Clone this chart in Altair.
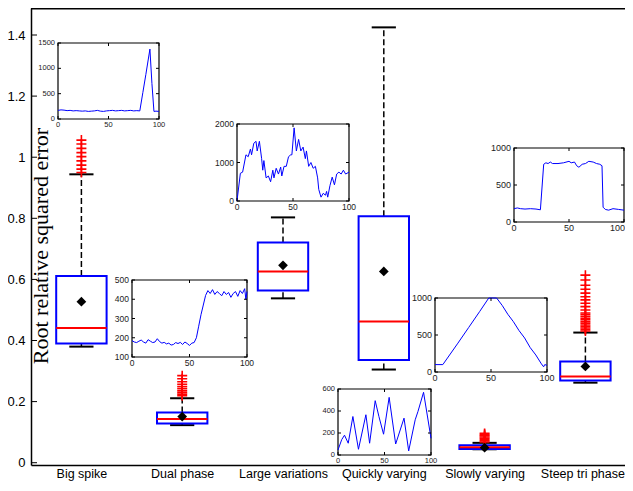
import json
import altair as alt
import pandas as pd

# ---------------- data ----------------
CATEGORIES = ["Big spike", "Dual phase", "Large variations",
              "Quickly varying", "Slowly varying", "Steep tri phase"]
Q1 = [0.390, 0.128, 0.564, 0.336, 0.045, 0.269]
MEDIAN = [0.441, 0.143, 0.626, 0.462, 0.051, 0.282]
Q3 = [0.611, 0.164, 0.721, 0.807, 0.057, 0.331]
WHISK_LO = [0.380, 0.123, 0.538, 0.305, 0.044, 0.262]
WHISK_HI = [0.944, 0.211, 0.803, 1.425, 0.065, 0.426]
MEAN = [0.527, 0.151, 0.646, 0.626, 0.049, 0.315]

OUT_BIG_SPIKE = [0.950, 0.961, 0.974, 0.988, 1.002, 1.015, 1.029, 1.043, 1.056]
OUT_DUAL_PHASE = [0.219, 0.224, 0.229, 0.235, 0.242, 0.249, 0.257, 0.265, 0.275, 0.285]
OUT_SLOWLY = [0.068, 0.072, 0.076, 0.080, 0.084, 0.088, 0.092, 0.096]
OUT_STEEP = [0.431, 0.436, 0.441, 0.446, 0.451, 0.457, 0.462, 0.468, 0.473, 0.479,
             0.485, 0.490, 0.500, 0.511, 0.522, 0.533, 0.543, 0.555, 0.568, 0.581,
             0.598, 0.614]

Y_TICKS = [0, 0.2, 0.4, 0.6, 0.8, 1.0, 1.2, 1.4]

# inset series (time 0..100)
SPIKE_T = [0, 3, 6, 9, 12, 15, 18, 21, 24, 27, 30, 33, 36, 39, 42, 45, 48, 51, 54, 57,
           60, 63, 66, 69, 72, 75, 78, 81, 84, 87, 91, 93, 95, 97, 100]
SPIKE_V = [170, 180, 175, 165, 170, 160, 165, 160, 155, 160, 150, 155, 160, 170, 155,
           150, 160, 165, 170, 160, 165, 170, 160, 165, 170, 160, 165, 160, 520, 880,
           1380, 700, 150, 155, 150]

DUAL_T = [0, 2, 4, 6, 8, 10, 12, 14, 16, 18, 20, 22, 24, 26, 28, 30, 32, 34, 36, 38,
          40, 42, 44, 46, 48, 50, 52, 54, 56, 58, 60, 62, 64, 66, 68, 70, 72, 74, 76,
          78, 80, 82, 84, 86, 88, 90, 92, 94, 96, 98, 99, 100]
DUAL_V = [185, 178, 175, 182, 188, 178, 172, 190, 182, 175, 178, 195, 180, 172, 176,
          168, 172, 162, 165, 175, 170, 176, 165, 178, 170, 160, 172, 175, 200, 260,
          320, 370, 420, 445, 430, 450, 425, 440, 430, 418, 440, 425, 435, 410, 430,
          440, 415, 445, 430, 455, 400, 440]

LARGE_T = [0, 3, 5, 8, 10, 12, 13, 15, 17, 18, 20, 22, 23, 24, 26, 28, 30, 32, 33, 35,
           37, 39, 40, 42, 44, 46, 48, 49, 51, 53, 55, 57, 59, 61, 62, 64, 66, 68, 70,
           72, 73, 75, 77, 79, 80, 81, 83, 85, 87, 89, 91, 93, 95, 97, 100]
LARGE_V = [0, 720, 750, 1200, 1150, 1350, 1200, 1500, 1550, 1300, 1550, 1100, 800,
           1050, 600, 650, 500, 800, 600, 850, 700, 880, 650, 900, 900, 1150, 1200,
           1200, 1900, 1300, 1600, 1300, 1400, 1100, 1300, 900, 1000, 850, 900, 600,
           300, 100, 200, 150, 250, 100, 400, 620, 420, 700, 750, 700, 800, 700, 750]

QUICK_T = [0, 4, 7, 11, 16, 22, 30, 34, 40, 44, 49, 55, 62, 71, 76, 83, 86, 92, 100]
QUICK_V = [46, 140, 180, 107, 350, 52, 366, 107, 494, 350, 189, 524, 100, 335, 37,
           320, 396, 570, 152]

SLOW_T = [0, 7, 20, 30, 40, 48, 55, 60, 65, 70, 75, 80, 85, 90, 95, 97, 98, 100]
SLOW_V = [100, 100, 380, 600, 820, 1000, 1000, 900, 780, 680, 560, 460, 330, 230,
          110, 70, 100, 90]

STEEP_T = [0, 3, 6, 10, 15, 20, 24, 27, 29, 31, 33, 35, 40, 45, 50, 52, 55, 57, 59,
           62, 65, 68, 72, 75, 78, 80, 81, 83, 86, 90, 95, 100]
STEEP_V = [180, 190, 180, 175, 180, 175, 165, 780, 800, 790, 810, 790, 790, 800, 820,
           800, 810, 760, 740, 780, 790, 820, 810, 790, 780, 760, 200, 170, 160, 180,
           170, 160]

# ---------------- layout ----------------
PX_PER_CAT = 100.8
VIEW_W, VIEW_H = 594, 457
X_DOM = [0.5, 0.5 + VIEW_W / PX_PER_CAT]
Y_DOM = [-0.0075, 1.4884]
FONT = "Liberation Sans"
BLUE, RED = "#0000FF", "#FF0000"

xs_main = alt.Scale(domain=X_DOM, nice=False, zero=False)
ys_main = alt.Scale(domain=Y_DOM, nice=False, zero=False)

stats = pd.DataFrame({
    "pos": list(range(1, 7)), "q1": Q1, "med": MEDIAN, "q3": Q3,
    "lo": WHISK_LO, "hi": WHISK_HI, "mean": MEAN,
})
stats["bl"] = stats["pos"] - 0.25
stats["br"] = stats["pos"] + 0.25
stats["cl"] = stats["pos"] - 0.12
stats["cr"] = stats["pos"] + 0.12

out_rows = []
for p, vals in [(1, OUT_BIG_SPIKE), (2, OUT_DUAL_PHASE), (5, OUT_SLOWLY), (6, OUT_STEEP)]:
    for v in vals:
        out_rows.append({"pos": p, "v": v})
outliers = pd.DataFrame(out_rows)

label_expr = json.dumps(CATEGORIES) + "[datum.value - 1]"

base = alt.Chart(stats)
X = lambda f: alt.X(f, type="quantitative", scale=xs_main)
Y = lambda f: alt.Y(f, type="quantitative", scale=ys_main)

axis_x = alt.Axis(values=list(range(1, 7)), labelExpr=label_expr, ticks=False,
                  tickSize=0, labelPadding=2, labelFont=FONT, labelFontSize=12.5,
                  labelOffset={"condition": {"test": "datum.value == 6", "value": -3},
                               "value": 0},
                  labelColor="black", domainColor="black", domainWidth=1.5,
                  grid=False, title=None, labelAngle=0)
axis_y = alt.Axis(values=Y_TICKS, format="~g", ticks=False, tickSize=0,
                  labelPadding=6, labelFont=FONT, labelFontSize=13,
                  labelColor="black", domainColor="black", domainWidth=1.5,
                  grid=False, title="Root relative squared error",
                  titleFont="Liberation Serif", titleFontSize=22,
                  titleFontWeight="normal", titleColor="black", titleAngle=270,
                  titleX=16, titleY=237.5, titleAlign="center",
                  titleBaseline="alphabetic")

# frame bits (drawn through the main scales)
frame_df = pd.DataFrame({"a": [X_DOM[0]], "b": [X_DOM[1]], "top": [Y_DOM[1]]})
top_line = alt.Chart(frame_df).mark_rule(color="black", strokeWidth=3).encode(
    x=alt.X("a:Q", scale=xs_main, axis=axis_x), x2="b:Q",
    y=alt.Y("top:Q", scale=ys_main, axis=axis_y))

tick_len = 6 / PX_PER_CAT
ticks_df = pd.DataFrame({
    "v": Y_TICKS,
    "a": [0.5] * len(Y_TICKS),
    "b": [0.5 + tick_len] * len(Y_TICKS),
})
side_ticks = alt.Chart(ticks_df).mark_rule(color="black", strokeWidth=1).encode(
    x=X("a"), x2="b", y=Y("v"))

whisk_up = base.mark_rule(color="black", strokeWidth=1.5, strokeDash=[6, 3]).encode(
    x=X("pos"), y=Y("q3"), y2="hi")
whisk_dn = base.mark_rule(color="black", strokeWidth=1.5, strokeDash=[6, 3]).encode(
    x=X("pos"), y=Y("lo"), y2="q1")
cap_up = base.mark_rule(color="black", strokeWidth=2).encode(
    x=X("cl"), x2="cr", y=Y("hi"))
cap_dn = base.mark_rule(color="black", strokeWidth=2).encode(
    x=X("cl"), x2="cr", y=Y("lo"))
box = base.mark_rect(fill=None, stroke=BLUE, strokeWidth=2).encode(
    x=X("bl"), x2="br", y=Y("q1"), y2="q3")
med = base.mark_rule(color=RED, strokeWidth=2).encode(
    x=X("bl"), x2="br", y=Y("med"))
pluses = alt.Chart(outliers).mark_point(
    shape="M-1,0H1M0,-1V1", color=RED, strokeWidth=1.6, size=100, filled=False,
    opacity=1).encode(x=X("pos"), y=Y("v"))
mean_pt = base.mark_point(shape="diamond", filled=True, color="black", size=95,
                          opacity=1).encode(x=X("pos"), y=Y("mean"))

main = alt.layer(top_line, side_ticks, whisk_up, whisk_dn, cap_up, cap_dn, box, med,
                 pluses, mean_pt)


def inset(ts, vs, ydom, yticks, box_px, fs, flush_last=False):
    left, right, top, bottom = box_px
    sx = alt.Scale(domain=[0, 100], range=[left, right], nice=False, zero=False)
    sy = alt.Scale(domain=ydom, range=[bottom, top], nice=False, zero=False)
    IX = lambda f: alt.X(f, type="quantitative", scale=sx, axis=None)
    IY = lambda f: alt.Y(f, type="quantitative", scale=sy, axis=None)
    fr = pd.DataFrame({"a": [0], "b": [100], "c": [ydom[0]], "d": [ydom[1]]})
    frame = alt.Chart(fr).mark_rect(fill="white", stroke="black", strokeWidth=1.2).encode(
        x=IX("a"), x2="b", y=IY("c"), y2="d")
    line = alt.Chart(pd.DataFrame({"t": ts, "v": vs})).mark_line(
        color=BLUE, strokeWidth=1).encode(x=IX("t"), y=IY("v"))
    xt = [0, 50, 100]
    dx_len = 100 * 3 / (right - left)
    dy_len = (ydom[1] - ydom[0]) * 3 / (bottom - top)
    yt_rows = []
    for v in yticks:
        yt_rows.append({"a": 0, "b": dx_len, "v": v})
        yt_rows.append({"a": 100 - dx_len, "b": 100, "v": v})
    ytk = alt.Chart(pd.DataFrame(yt_rows)).mark_rule(color="black", strokeWidth=1).encode(
        x=IX("a"), x2="b", y=IY("v"))
    xt_rows = []
    for t in xt:
        xt_rows.append({"t": t, "a": ydom[0], "b": ydom[0] + dy_len})
        xt_rows.append({"t": t, "a": ydom[1] - dy_len, "b": ydom[1]})
    xtk = alt.Chart(pd.DataFrame(xt_rows)).mark_rule(color="black", strokeWidth=1).encode(
        x=IX("t"), y=IY("a"), y2="b")
    ylab = alt.Chart(pd.DataFrame({"t": [0] * len(yticks), "v": yticks,
                                   "s": [str(v) for v in yticks]})).mark_text(
        align="right", baseline="middle", dx=-3, font=FONT, fontSize=fs,
        color="#222222").encode(x=IX("t"), y=IY("v"), text="s:N")
    centered = xt[:-1] if flush_last else xt
    xlab = alt.Chart(pd.DataFrame({"t": centered, "v": [ydom[0]] * len(centered),
                                   "s": [str(t) for t in centered]})).mark_text(
        align="center", baseline="top", dy=2, font=FONT, fontSize=fs,
        color="#222222").encode(x=IX("t"), y=IY("v"), text="s:N")
    layers = [frame, line, ytk, xtk, ylab, xlab]
    if flush_last:
        last = alt.Chart(pd.DataFrame({"t": [xt[-1]], "v": [ydom[0]],
                                       "s": [str(xt[-1])]})).mark_text(
            align="right", baseline="top", dy=2, dx=1, font=FONT, fontSize=fs,
            color="#222222").encode(x=IX("t"), y=IY("v"), text="s:N")
        layers.append(last)
    return alt.layer(*layers)


# inset boxes in view pixels: left, right, top, bottom
ins1 = inset(SPIKE_T, SPIKE_V, [0, 1500], [0, 500, 1000, 1500], (27, 128, 35, 111), 7.5)
ins2 = inset(DUAL_T, DUAL_V, [100, 500], [100, 200, 300, 400, 500], (101, 216, 272, 349), 8.5)
ins3 = inset(LARGE_T, LARGE_V, [0, 2000], [0, 1000, 2000], (206, 318, 116, 193), 8.5)
ins4 = inset(QUICK_T, QUICK_V, [0, 600], [0, 200, 400, 600], (307, 400, 381, 447), 7.5)
ins5 = inset(SLOW_T, SLOW_V, [0, 1000], [0, 500, 1000], (404, 516, 290, 364), 9)
ins6 = inset(STEEP_T, STEEP_V, [0, 1000], [0, 500, 1000], (483, 593, 140, 214), 9,
             flush_last=True)

chart = alt.layer(main, ins1, ins2, ins3, ins4, ins5, ins6).resolve_scale(
    x="independent", y="independent"
).properties(
    width=VIEW_W, height=VIEW_H,
    autosize=alt.AutoSizeParams(type="none"),
    padding={"left": 23, "top": 0, "right": 0, "bottom": 18},
    background="white",
).configure_view(stroke=None)

chart.save("out.html", embed_options={"renderer": "svg", "actions": False})
